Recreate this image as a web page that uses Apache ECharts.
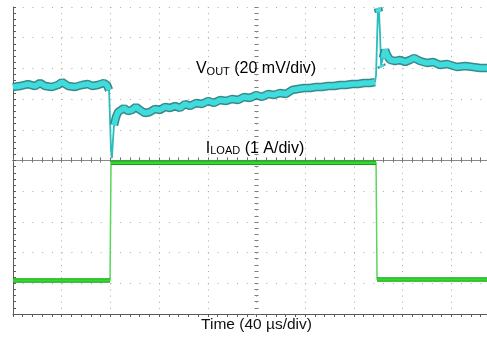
<!DOCTYPE html>
<html>
<head>
<meta charset="utf-8">
<script src="https://cdn.jsdelivr.net/npm/echarts@6/dist/echarts.min.js"></script>
<style>
html,body{margin:0;padding:0;background:#fff;}
#chart{width:487px;height:339px;}
</style>
</head>
<body>
<div id="chart"></div>
<script>
// Time axis: 40 µs/div, 10 divisions
const timeTicks = [0, 40, 80, 120, 160, 200, 240, 280, 320, 360, 400];
// VOUT (mV, relative to screen centre, 20 mV/div)
const vTime = [0, 5.7, 12.3, 18.1, 22.2, 26.3, 32.0, 37.0, 40.2, 45.2, 50.9, 56.7, 61.6, 64.9, 69.8, 74.7, 77.2, 78.9,
  79.7, 80.5, 81.3, 82.1, 83.0, 84.6, 86.3, 87.9, 91.2, 94.5, 97.7, 101.0, 104.3, 108.4, 112.5, 116.6, 120.7, 124.9,
  129.0, 133.1, 137.2, 141.3, 145.4, 150.3, 155.2, 160.2, 165.1, 170.0, 175.0, 179.9, 184.8, 189.7, 194.7, 199.6,
  204.5, 209.4, 214.4, 219.3, 224.2, 229.2, 234.1, 239.0, 244.0, 248.9, 253.8, 258.7, 263.7, 268.6, 273.5, 278.5,
  283.4, 288.3, 293.2, 297.3, 298.2, 299.0, 299.8, 300.6, 301.5, 302.3, 303.1, 303.9, 305.6, 307.2, 309.7, 313.8,
  317.9, 322.0, 326.1, 329.4, 334.3, 340.1, 345.0, 350.7, 356.5, 364.7, 371.3, 377.9, 383.6, 389.4, 400];
const vOut = [47.9, 48.5, 49.8, 48.5, 50.5, 48.5, 47.9, 49.2, 51.1, 48.5, 47.9, 49.2, 49.8, 48.5, 49.2, 50.5, 49.2, 45.9,
  26.4, 6.8, 1.6, 13.4, 23.1, 28.3, 31.6, 32.9, 34.2, 32.2, 32.9, 34.9, 32.9, 30.9, 31.6, 33.6, 32.9, 34.9,
  34.2, 35.5, 34.2, 36.8, 35.5, 37.5, 36.8, 38.8, 37.5, 39.4, 38.8, 40.1, 39.4, 41.4, 40.7, 42.7,
  41.4, 43.3, 42.7, 44.0, 43.3, 45.9, 46.6, 47.2, 47.2, 47.9, 47.9, 48.5, 48.5, 49.2, 49.2, 49.8,
  49.8, 50.5, 50.5, 51.1, 55.7, 78.5, 99.4, 96.7, 81.8, 62.2, 60.9, 66.8, 72.0, 68.7, 65.5, 64.8,
  65.5, 64.2, 65.5, 66.8, 64.8, 63.5, 64.2, 62.2, 62.9, 60.9, 61.6, 60.9, 60.3, 60.3, 59.6];
// ILOAD (A, 1 A/div)
const iTime = [0, 79.7, 80.5, 298.2, 299.0, 400];
const iLoad = [1.09, 1.09, 4.93, 4.93, 1.12, 1.12];

const vLabel = ['V', 'OUT', ' (20 mV/div)'];
const iLabel = ['I', 'LOAD', ' (1 A/div)'];
const xName = 'Time (40 µs/div)';

function zip(ts, vs) { return ts.map((t, i) => [t, vs[i]]); }
// thick band is broken wherever the trace slews faster than maxSlope (units per µs)
function withBreaks(ts, vs, maxSlope) {
  const out = [];
  for (let i = 0; i < ts.length; i++) {
    if (i > 0 && Math.abs(vs[i] - vs[i - 1]) / Math.max(ts[i] - ts[i - 1], 1e-6) > maxSlope) out.push([ts[i], null]);
    out.push([ts[i], vs[i]]);
  }
  return out;
}

const FONT = 'Liberation Sans, Arial, sans-serif';
const borderCol = '#5a5a5a';
const dotCol = '#a8a8a8';

function xAx(extra) {
  return Object.assign({
    type: 'value', min: timeTicks[0], max: timeTicks[timeTicks.length - 1], interval: 40,
    axisLabel: { show: false },
    axisLine: { show: true, lineStyle: { color: borderCol, width: 1 } },
    axisTick: { show: true, inside: true, length: 3, lineStyle: { color: borderCol } },
    minorTick: { show: true, splitNumber: 5, length: 3, lineStyle: { color: borderCol } },
    splitLine: { show: false }
  }, extra);
}
function yAx(extra) {
  return Object.assign({
    type: 'value', min: 0, max: 10, interval: 1,
    axisLabel: { show: false },
    axisLine: { show: true, lineStyle: { color: borderCol, width: 1 } },
    axisTick: { show: true, inside: true, length: 3, lineStyle: { color: borderCol } },
    minorTick: { show: true, splitNumber: 5, length: 3, lineStyle: { color: borderCol } },
    splitLine: { show: false }
  }, extra);
}
const cTick = (inside, line) => ({ axisTick: { show: true, inside: inside, length: 2, lineStyle: { color: '#777' } },
  minorTick: { show: true, splitNumber: 5, length: 2, lineStyle: { color: '#777' } },
  axisLine: { show: line, lineStyle: { color: '#888' } } });

const chart = echarts.init(document.getElementById('chart'), null, { renderer: 'canvas' });
chart.setOption({
  animation: false,
  backgroundColor: '#fff',
  grid: { left: 13, top: 7, width: 487, height: 307, outerBoundsMode: 'none', containLabel: false },
  xAxis: [
    xAx({ position: 'bottom',
      splitLine: { show: true, lineStyle: { color: dotCol, width: 1, type: [1, 5.14] } },
      name: xName, nameLocation: 'middle', nameGap: 3,
      nameTextStyle: { fontFamily: FONT, fontSize: 15.5, color: '#111', verticalAlign: 'top' } }),
    xAx({ position: 'top' }),
    xAx(Object.assign({ position: 'bottom', offset: -153.5 }, cTick(true, true))),
    xAx(Object.assign({ position: 'bottom', offset: -153.5 }, cTick(false, true)))
  ],
  yAxis: [
    yAx({ position: 'left', min: -100, max: 100, interval: 20,
      splitLine: { show: true, lineStyle: { color: dotCol, width: 1, type: [1, 8.74] } } }),
    yAx({ position: 'left', show: false }),
    yAx(Object.assign({ position: 'left', offset: -243.5 }, cTick(true, false))),
    yAx(Object.assign({ position: 'left', offset: -243.5 }, cTick(false, false)))
  ],
  graphic: [
    { type: 'text', x: 256, y: 68, z: 100,
      style: { text: '{a|' + vLabel[0] + '}{b|' + vLabel[1] + '}{a|' + vLabel[2] + '}', align: 'center', verticalAlign: 'middle',
        rich: { a: { fontFamily: FONT, fontSize: 16, color: '#111', lineHeight: 18, verticalAlign: 'bottom' },
                b: { fontFamily: FONT, fontSize: 11, color: '#111', lineHeight: 18, verticalAlign: 'bottom' } } } },
    { type: 'text', x: 255, y: 147.5, z: 100,
      style: { text: '{a|' + iLabel[0] + '}{b|' + iLabel[1] + '}{a|' + iLabel[2] + '}', align: 'center', verticalAlign: 'middle',
        rich: { a: { fontFamily: FONT, fontSize: 16, color: '#111', lineHeight: 18, verticalAlign: 'bottom' },
                b: { fontFamily: FONT, fontSize: 11, color: '#111', lineHeight: 18, verticalAlign: 'bottom' } } } }
  ],
  series: [
    { name: 'ILOAD edge', type: 'line', xAxisIndex: 0, yAxisIndex: 1, data: zip(iTime, iLoad), showSymbol: false, symbol: 'none',
      lineStyle: { width: 1.5, color: '#5ad65a' }, z: 3 },
    { name: 'ILOAD', type: 'line', xAxisIndex: 0, yAxisIndex: 1, data: withBreaks(iTime, iLoad, 1), showSymbol: false, symbol: 'none',
      connectNulls: false, lineStyle: { width: 4.5, color: '#1a9e1a' }, z: 4 },
    { name: 'ILOAD core', type: 'line', xAxisIndex: 0, yAxisIndex: 1, data: withBreaks(iTime, iLoad, 1), showSymbol: false, symbol: 'none',
      connectNulls: false, lineStyle: { width: 2.5, color: '#2ddc2d' }, z: 5 },
    { name: 'VOUT edge', type: 'line', xAxisIndex: 0, yAxisIndex: 0, data: zip(vTime, vOut), showSymbol: false, symbol: 'none',
      lineStyle: { width: 1.8, color: '#2bbcbc' }, z: 6 },
    { name: 'VOUT', type: 'line', xAxisIndex: 0, yAxisIndex: 0, data: withBreaks(vTime, vOut, 4), showSymbol: false, symbol: 'none',
      connectNulls: false, lineStyle: { width: 8.5, color: '#237c7c', opacity: 0.9 }, z: 7 },
    { name: 'VOUT core', type: 'line', xAxisIndex: 0, yAxisIndex: 0, data: withBreaks(vTime, vOut, 4), showSymbol: false, symbol: 'none',
      connectNulls: false, lineStyle: { width: 5.5, color: '#3edcdc' }, z: 8 }
  ]
});
</script>
</body>
</html>
